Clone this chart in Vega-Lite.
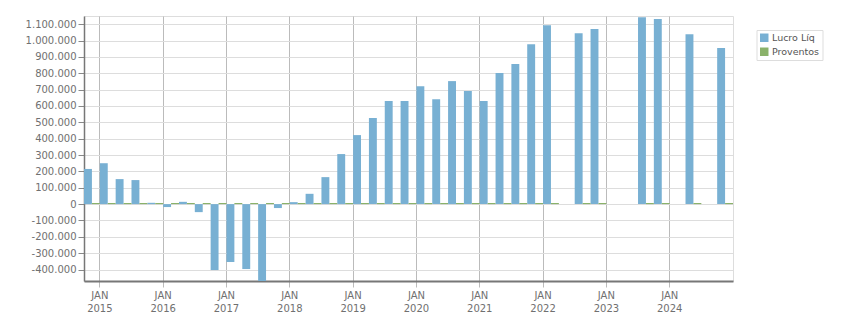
{
  "$schema": "https://vega.github.io/schema/vega-lite/v6.json",
  "width": 649,
  "height": 265,
  "autosize": {"type": "none"},
  "padding": {"left": 84, "top": 16, "right": 118, "bottom": 32},
  "config": {
    "locale": {"number": {"decimal": ",", "thousands": ".", "grouping": [3], "currency": ["R$", ""], "minus": "-"}},
    "view": {"stroke": "#dddddd"},
    "font": "DejaVu Sans",
    "axis": {"labelFont": "DejaVu Sans", "labelFontSize": 10, "labelColor": "#707070", "title": null}
  },
  "data": {
    "values": [
      {"q": "2014-Q4", "s": "Lucro Líq", "v": 215000},
      {"q": "2015-Q1", "s": "Lucro Líq", "v": 250000},
      {"q": "2015-Q2", "s": "Lucro Líq", "v": 153000},
      {"q": "2015-Q3", "s": "Lucro Líq", "v": 147000},
      {"q": "2015-Q4", "s": "Lucro Líq", "v": 8000},
      {"q": "2016-Q1", "s": "Lucro Líq", "v": -18000},
      {"q": "2016-Q2", "s": "Lucro Líq", "v": 14000},
      {"q": "2016-Q3", "s": "Lucro Líq", "v": -49000},
      {"q": "2016-Q4", "s": "Lucro Líq", "v": -403000},
      {"q": "2017-Q1", "s": "Lucro Líq", "v": -354000},
      {"q": "2017-Q2", "s": "Lucro Líq", "v": -397000},
      {"q": "2017-Q3", "s": "Lucro Líq", "v": -480000},
      {"q": "2017-Q4", "s": "Lucro Líq", "v": -24000},
      {"q": "2018-Q1", "s": "Lucro Líq", "v": 12000},
      {"q": "2018-Q2", "s": "Lucro Líq", "v": 63000},
      {"q": "2018-Q3", "s": "Lucro Líq", "v": 165000},
      {"q": "2018-Q4", "s": "Lucro Líq", "v": 306000},
      {"q": "2019-Q1", "s": "Lucro Líq", "v": 422000},
      {"q": "2019-Q2", "s": "Lucro Líq", "v": 526000},
      {"q": "2019-Q3", "s": "Lucro Líq", "v": 630000},
      {"q": "2019-Q4", "s": "Lucro Líq", "v": 630000},
      {"q": "2020-Q1", "s": "Lucro Líq", "v": 721000},
      {"q": "2020-Q2", "s": "Lucro Líq", "v": 641000},
      {"q": "2020-Q3", "s": "Lucro Líq", "v": 752000},
      {"q": "2020-Q4", "s": "Lucro Líq", "v": 691000},
      {"q": "2021-Q1", "s": "Lucro Líq", "v": 630000},
      {"q": "2021-Q2", "s": "Lucro Líq", "v": 801000},
      {"q": "2021-Q3", "s": "Lucro Líq", "v": 856000},
      {"q": "2021-Q4", "s": "Lucro Líq", "v": 978000},
      {"q": "2022-Q1", "s": "Lucro Líq", "v": 1094000},
      {"q": "2022-Q3", "s": "Lucro Líq", "v": 1045000},
      {"q": "2022-Q4", "s": "Lucro Líq", "v": 1070000},
      {"q": "2023-Q3", "s": "Lucro Líq", "v": 1143000},
      {"q": "2023-Q4", "s": "Lucro Líq", "v": 1131000},
      {"q": "2024-Q2", "s": "Lucro Líq", "v": 1039000},
      {"q": "2024-Q4", "s": "Lucro Líq", "v": 954000},
      {"q": "2014-Q4", "s": "Proventos", "v": 7000},
      {"q": "2015-Q1", "s": "Proventos", "v": 7000},
      {"q": "2015-Q2", "s": "Proventos", "v": 7000},
      {"q": "2015-Q3", "s": "Proventos", "v": 7000},
      {"q": "2015-Q4", "s": "Proventos", "v": 7000},
      {"q": "2016-Q1", "s": "Proventos", "v": 7000},
      {"q": "2016-Q2", "s": "Proventos", "v": 7000},
      {"q": "2016-Q3", "s": "Proventos", "v": 7000},
      {"q": "2016-Q4", "s": "Proventos", "v": 7000},
      {"q": "2017-Q1", "s": "Proventos", "v": 7000},
      {"q": "2017-Q2", "s": "Proventos", "v": 7000},
      {"q": "2017-Q3", "s": "Proventos", "v": 7000},
      {"q": "2017-Q4", "s": "Proventos", "v": 7000},
      {"q": "2018-Q1", "s": "Proventos", "v": 7000},
      {"q": "2018-Q2", "s": "Proventos", "v": 7000},
      {"q": "2018-Q3", "s": "Proventos", "v": 7000},
      {"q": "2018-Q4", "s": "Proventos", "v": 7000},
      {"q": "2019-Q1", "s": "Proventos", "v": 7000},
      {"q": "2019-Q2", "s": "Proventos", "v": 7000},
      {"q": "2019-Q3", "s": "Proventos", "v": 7000},
      {"q": "2019-Q4", "s": "Proventos", "v": 7000},
      {"q": "2020-Q1", "s": "Proventos", "v": 7000},
      {"q": "2020-Q2", "s": "Proventos", "v": 7000},
      {"q": "2020-Q3", "s": "Proventos", "v": 7000},
      {"q": "2020-Q4", "s": "Proventos", "v": 7000},
      {"q": "2021-Q1", "s": "Proventos", "v": 7000},
      {"q": "2021-Q2", "s": "Proventos", "v": 7000},
      {"q": "2021-Q3", "s": "Proventos", "v": 7000},
      {"q": "2021-Q4", "s": "Proventos", "v": 7000},
      {"q": "2022-Q1", "s": "Proventos", "v": 7000},
      {"q": "2022-Q3", "s": "Proventos", "v": 7000},
      {"q": "2022-Q4", "s": "Proventos", "v": 7000},
      {"q": "2023-Q3", "s": "Proventos", "v": 7000},
      {"q": "2023-Q4", "s": "Proventos", "v": 7000},
      {"q": "2024-Q2", "s": "Proventos", "v": 7000},
      {"q": "2024-Q4", "s": "Proventos", "v": 7000}
    ]
  },
  "mark": {"type": "bar", "clip": true},
  "encoding": {
    "x": {
      "field": "q",
      "type": "ordinal",
      "scale": {
        "type": "band",
        "paddingInner": 0,
        "paddingOuter": 0,
        "domain": ["2014-Q4",
          "2015-Q1", "2015-Q2", "2015-Q3", "2015-Q4",
          "2016-Q1", "2016-Q2", "2016-Q3", "2016-Q4",
          "2017-Q1", "2017-Q2", "2017-Q3", "2017-Q4",
          "2018-Q1", "2018-Q2", "2018-Q3", "2018-Q4",
          "2019-Q1", "2019-Q2", "2019-Q3", "2019-Q4",
          "2020-Q1", "2020-Q2", "2020-Q3", "2020-Q4",
          "2021-Q1", "2021-Q2", "2021-Q3", "2021-Q4",
          "2022-Q1", "2022-Q2", "2022-Q3", "2022-Q4",
          "2023-Q1", "2023-Q2", "2023-Q3", "2023-Q4",
          "2024-Q1", "2024-Q2", "2024-Q3", "2024-Q4"]
      },
      "axis": {
        "values": ["2015-Q1", "2016-Q1", "2017-Q1", "2018-Q1", "2019-Q1", "2020-Q1", "2021-Q1", "2022-Q1", "2023-Q1", "2024-Q1"],
        "bandPosition": 0,
        "labelExpr": "['JAN', slice(datum.value, 0, 4)]",
        "labelAngle": 0,
        "labelOffset": -7.9,
        "labelLineHeight": 13,
        "labelPadding": 3,
        "labelAlign": "center",
        "labelBaseline": "top",
        "labelOverlap": false,
        "grid": true,
        "gridColor": "#bbbbbb",
        "domainColor": "#777777",
        "domainWidth": 2,
        "tickColor": "#bbbbbb",
        "tickSize": 6
      }
    },
    "xOffset": {
      "field": "s",
      "type": "nominal",
      "scale": {"domain": ["Lucro Líq", "Proventos"], "paddingInner": 0, "paddingOuter": 0}
    },
    "y": {
      "field": "v",
      "type": "quantitative",
      "scale": {"domain": [-470000, 1150000], "nice": false, "zero": false},
      "axis": {
        "values": [-400000, -300000, -200000, -100000, 0, 100000, 200000, 300000, 400000, 500000, 600000, 700000, 800000, 900000, 1000000, 1100000],
        "format": ",d",
        "grid": true,
        "gridColor": "#dddddd",
        "domainColor": "#777777",
        "domainWidth": 1.5,
        "tickColor": "#888888",
        "tickSize": 6,
        "labelPadding": 2
      }
    },
    "color": {
      "field": "s",
      "type": "nominal",
      "scale": {"domain": ["Lucro Líq", "Proventos"], "range": ["#78b0d3", "#8ab26a"]},
      "legend": {
        "title": null,
        "orient": "none",
        "legendX": 672.5,
        "legendY": 14,
        "strokeColor": "#dddddd",
        "padding": 3,
        "symbolType": "square",
        "symbolSize": 72,
        "symbolStrokeWidth": 0,
        "labelFontSize": 9.5,
        "labelColor": "#555555",
        "labelOffset": 3,
        "rowPadding": 3
      }
    }
  }
}
